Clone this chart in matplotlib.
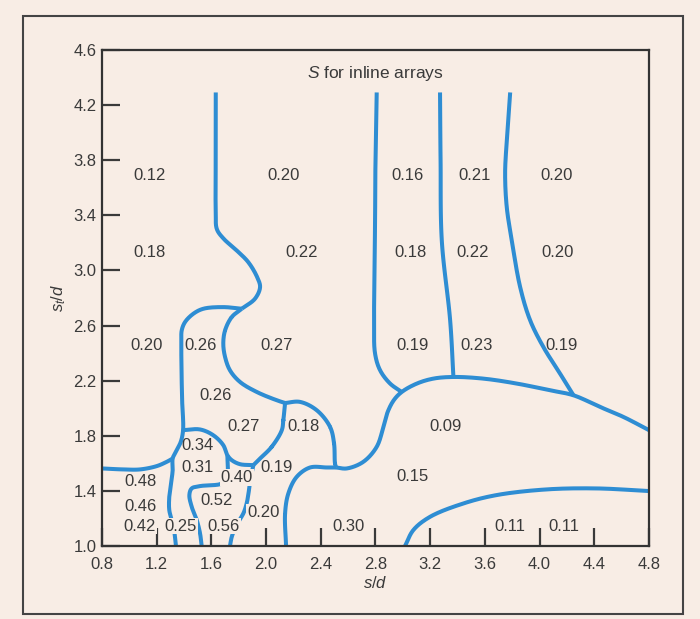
import numpy as np
import matplotlib.pyplot as plt
from matplotlib.patches import Rectangle

plt.rcParams['font.family'] = ['Liberation Sans', 'DejaVu Sans']
plt.rcParams['mathtext.fontset'] = 'custom'
plt.rcParams['mathtext.it'] = 'Liberation Sans:italic'
plt.rcParams['mathtext.rm'] = 'Liberation Sans'

PAPER = '#f8ede5'
INK = '#3a3a3a'
BLUE = '#2e8dd3'

# region boundaries, (s/d, st/d) points along each line
left_top = [(1.632, 4.292), (1.632, 3.87), (1.632, 3.42), (1.640, 3.30), (1.690, 3.230),
            (1.780, 3.150), (1.870, 3.060), (1.935, 2.951), (1.956, 2.879), (1.919, 2.795),
            (1.822, 2.722)]
box_026 = [(1.822, 2.722), (1.687, 2.734), (1.541, 2.722), (1.468, 2.686), (1.407, 2.625),
           (1.383, 2.565), (1.380, 2.493), (1.382, 2.25), (1.386, 2.058), (1.393, 1.841),
           (1.376, 1.756), (1.346, 1.696), (1.317, 1.635), (1.317, 1.551), (1.305, 1.454),
           (1.292, 1.357), (1.292, 1.261), (1.310, 1.188), (1.327, 1.116), (1.341, 1.0)]
left_edge = [(0.8, 1.563), (0.956, 1.556), (1.078, 1.556), (1.200, 1.580), (1.273, 1.611),
             (1.317, 1.635)]
arc_034 = [(1.393, 1.841), (1.517, 1.846), (1.614, 1.804), (1.687, 1.732), (1.717, 1.659),
           (1.749, 1.623), (1.809, 1.594), (1.907, 1.587)]
box_052 = [(1.717, 1.659), (1.717, 1.527), (1.687, 1.466), (1.663, 1.449), (1.517, 1.435),
           (1.456, 1.418), (1.439, 1.370), (1.456, 1.285), (1.493, 1.188), (1.517, 1.092),
           (1.529, 1.0)]
right_027 = [(2.139, 2.038), (2.126, 1.913), (2.115, 1.841), (2.041, 1.720), (1.956, 1.635),
             (1.907, 1.587)]
down_040 = [(1.907, 1.587), (1.888, 1.502), (1.875, 1.406), (1.858, 1.309), (1.834, 1.237),
            (1.797, 1.176), (1.773, 1.128), (1.749, 1.067), (1.736, 1.0)]
bulge_026 = [(1.822, 2.722), (1.749, 2.662), (1.700, 2.565), (1.687, 2.469), (1.700, 2.372),
             (1.736, 2.275), (1.809, 2.191), (1.932, 2.118), (2.078, 2.058), (2.139, 2.038)]
box_018 = [(2.139, 2.038), (2.248, 2.046), (2.371, 1.985), (2.468, 1.864), (2.497, 1.744),
           (2.504, 1.599), (2.512, 1.570)]
left_030 = [(2.512, 1.570), (2.444, 1.570), (2.322, 1.570), (2.224, 1.502), (2.163, 1.382),
            (2.139, 1.237), (2.146, 1.0)]
dome_009 = [(2.512, 1.570), (2.590, 1.563), (2.711, 1.611), (2.809, 1.720), (2.858, 1.864),
            (2.890, 1.975), (2.935, 2.060), (2.992, 2.118), (3.102, 2.179), (3.223, 2.215),
            (3.370, 2.227), (3.589, 2.215), (3.834, 2.179), (4.077, 2.130), (4.248, 2.094),
            (4.443, 2.009), (4.613, 1.937), (4.8, 1.841)]
line_016 = [(2.809, 4.292), (2.800, 3.80), (2.797, 3.362), (2.790, 2.638), (2.797, 2.396),
            (2.834, 2.275), (2.907, 2.179), (2.992, 2.118)]
line_021 = [(3.272, 4.292), (3.276, 3.80), (3.285, 3.217), (3.346, 2.638), (3.370, 2.227)]
curve_020 = [(3.785, 4.292), (3.760, 3.942), (3.748, 3.701), (3.760, 3.459), (3.797, 3.217),
             (3.858, 2.879), (3.931, 2.638), (4.028, 2.444), (4.150, 2.251), (4.248, 2.094)]
floor_011 = [(3.016, 1.0), (3.077, 1.116), (3.199, 1.212), (3.443, 1.309), (3.687, 1.370),
             (4.053, 1.411), (4.419, 1.418), (4.8, 1.399)]

boundaries = [left_top, box_026, left_edge, arc_034, box_052, right_027, down_040,
              bulge_026, box_018, left_030, dome_009, line_016, line_021, curve_020, floor_011]

# Strouhal numbers written in each region
label_text = ['0.12', '0.20', '0.16', '0.21', '0.20',
              '0.18', '0.22', '0.18', '0.22', '0.20',
              '0.20', '0.26', '0.27', '0.19', '0.23', '0.19',
              '0.26', '0.27', '0.18', '0.09',
              '0.34', '0.31', '0.19', '0.40', '0.15',
              '0.48', '0.46', '0.52', '0.20',
              '0.42', '0.25', '0.56', '0.30', '0.11', '0.11']
label_x = [1.151, 2.131, 3.031, 3.528, 4.121,
           1.151, 2.263, 3.053, 3.507, 4.128,
           1.129, 1.524, 2.080, 3.068, 3.536, 4.158,
           1.627, 1.835, 2.274, 3.309,
           1.495, 1.495, 2.080, 1.784, 3.068,
           1.078, 1.078, 1.641, 1.981,
           1.078, 1.378, 1.692, 2.603, 3.785, 4.176]
label_y = [3.688, 3.688, 3.688, 3.688, 3.688,
           3.127, 3.127, 3.127, 3.127, 3.127,
           2.456, 2.456, 2.456, 2.456, 2.456, 2.456,
           2.094, 1.870, 1.870, 1.870,
           1.728, 1.570, 1.570, 1.498, 1.507,
           1.471, 1.290, 1.328, 1.244,
           1.145, 1.145, 1.145, 1.145, 1.145, 1.145]

x_ticks = [0.8, 1.2, 1.6, 2.0, 2.4, 2.8, 3.2, 3.6, 4.0, 4.4, 4.8]
y_ticks = [1.0, 1.4, 1.8, 2.2, 2.6, 3.0, 3.4, 3.8, 4.2, 4.6]


def spline(pts, n=20, alpha=0.5):
    # centripetal Catmull-Rom through the points
    p = np.asarray(pts, float)
    p = np.vstack([2 * p[0] - p[1], p, 2 * p[-1] - p[-2]])
    out = []
    for i in range(len(p) - 3):
        P0, P1, P2, P3 = p[i:i + 4]
        t0 = 0.0
        t1 = t0 + np.linalg.norm(P1 - P0) ** alpha
        t2 = t1 + np.linalg.norm(P2 - P1) ** alpha
        t3 = t2 + np.linalg.norm(P3 - P2) ** alpha
        t = np.linspace(t1, t2, n)[:, None]
        A1 = (t1 - t) / (t1 - t0) * P0 + (t - t0) / (t1 - t0) * P1
        A2 = (t2 - t) / (t2 - t1) * P1 + (t - t1) / (t2 - t1) * P2
        A3 = (t3 - t) / (t3 - t2) * P2 + (t - t2) / (t3 - t2) * P3
        B1 = (t2 - t) / (t2 - t0) * A1 + (t - t0) / (t2 - t0) * A2
        B2 = (t3 - t) / (t3 - t1) * A2 + (t - t1) / (t3 - t1) * A3
        out.append((t2 - t) / (t2 - t1) * B1 + (t - t1) / (t2 - t1) * B2)
    c = np.vstack(out)
    return c[:, 0], c[:, 1]


fig = plt.figure(figsize=(7.0, 6.19), dpi=100, facecolor=PAPER)
ax = fig.add_axes([0.1457, 0.1179, 0.7814, 0.8013], facecolor=PAPER)

for b in boundaries:
    xs, ys = spline(b)
    ax.plot(xs, ys, color=BLUE, lw=2.9, solid_capstyle='butt', solid_joinstyle='round', zorder=2)

for s, x, y in zip(label_text, label_x, label_y):
    # labels low in the chart sit on a paper patch that breaks the lines and ticks under them
    box = dict(boxstyle='square,pad=0.05', fc=PAPER, ec='none') if y < 1.55 else None
    ax.text(x, y, s, ha='center', va='center', fontsize=12, color=INK, zorder=4, bbox=box)

ax.text(2.8, 4.43, r'$S$ for inline arrays', ha='center', va='center', fontsize=12.5, color=INK)

ax.set_xlim(0.8, 4.8)
ax.set_ylim(1.0, 4.6)
ax.set_xticks(x_ticks)
ax.set_xticklabels([f'{v:.1f}' for v in x_ticks])
ax.set_yticks(y_ticks)
ax.set_yticklabels([f'{v:.1f}' for v in y_ticks])
ax.tick_params(direction='in', length=13, width=1.6, color=INK, labelsize=12,
               labelcolor=INK)
ax.tick_params(axis='x', pad=8)
ax.tick_params(axis='y', pad=4)
for sp in ax.spines.values():
    sp.set_color('#333333')
    sp.set_linewidth(1.6)

ax.set_xlabel(r'$s/d$', fontsize=12, color=INK, labelpad=2)
ax.set_ylabel(r'$s_t/d$', fontsize=12, color=INK, labelpad=4)

fig.add_artist(Rectangle((0.033, 0.008), 0.943, 0.966, transform=fig.transFigure,
                         fill=False, lw=1.5, ec='#444444'))

fig.savefig('out.png', dpi=100, facecolor=PAPER)
